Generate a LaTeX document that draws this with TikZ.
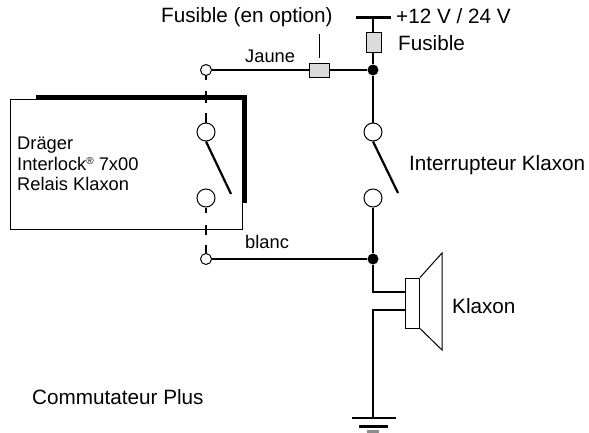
\documentclass[tikz,border=0pt]{standalone}
\usepackage{fontspec}
\setmainfont{Liberation Sans}
\tikzset{
  wire/.style={line width=2.2pt},
  thickwire/.style={line width=4.8pt},
  thinwire/.style={line width=1pt},
  term/.style={circle,draw,fill=white,line width=1pt,inner sep=0pt,minimum size=11pt},
  contact/.style={circle,draw,fill=white,line width=1pt,inner sep=0pt,minimum size=18pt},
  junction/.style={circle,fill=black,inner sep=0pt,minimum size=11pt},
  fusebox/.style={draw,fill=black!14,line width=1pt,inner sep=0pt},
  biglabel/.style={anchor=base west,inner sep=0pt,font=\fontsize{20.7}{24}\selectfont},
  smalllabel/.style={anchor=base west,inner sep=0pt,font=\fontsize{18.3}{21}\selectfont},
}
\begin{document}
\begin{tikzpicture}[x=1pt,y=-1pt]
\useasboundingbox (0,0) rectangle (589,432);

% relay box
\draw[thinwire] (242,203) -- (242,229) -- (10,229) -- (10,99) -- (36,99);
\draw[thickwire] (36,97.5) -- (244.5,97.5) -- (244.5,203);

% terminals and contacts
\node[term] (termJaune) at (206,70) {};
\node[term] (termBlanc) at (206,259) {};
\node[contact] (relayA) at (206,132) {};
\node[contact] (relayB) at (206,198) {};
\node[contact] (switchA) at (373,132) {};
\node[contact] (switchB) at (373,198) {};
\node[junction] (juncTop) at (373,70) {};
\node[junction] (juncBottom) at (373,259) {};

\coordinate (vcc) at (373,17.5);
\coordinate (vccL) at (356,17.5);
\coordinate (vccR) at (391,17.5);
\coordinate (relayEnd) at (231,194);
\coordinate (switchEnd) at (398,193);
\coordinate (hornTop) at (373,292);
\coordinate (hornTopR) at (405,292);
\coordinate (hornBot) at (373,310);
\coordinate (hornBotR) at (405,310);
\coordinate (gnd) at (373,418);
\coordinate (leaderA) at (319,34);
\coordinate (leaderB) at (319,58);

% wires
\draw[wire] (vccL) -- (vccR);
\draw[wire] (vcc) -- (juncTop);
\draw[wire] (termJaune) -- (juncTop);
\draw[wire] (juncTop) -- (switchA);
\draw[wire] (switchB) -- (juncBottom);
\draw[wire] (termBlanc) -- (juncBottom);
\draw[wire] (juncBottom) -- (hornTop) -- (hornTopR);
\draw[wire] (hornBotR) -- (hornBot) -- (gnd);
\draw[wire] (switchA.south) -- (switchEnd);
\draw[wire] (relayA.south) -- (relayEnd);
\draw[wire,dash pattern=on 10pt off 10pt on 12pt off 11pt on 5pt off 99pt] (relayA) -- (termJaune);
\draw[wire,dash pattern=on 8pt off 10pt on 10pt off 12pt on 6pt off 99pt] (termBlanc) -- (relayB);
\draw[thinwire] (leaderA) -- (leaderB);

% ground
\draw[wire] (352,418) -- (396,418);
\draw[wire] (359,426.5) -- (388,426.5);
\draw[wire,black!45] (367,431.5) -- (379,431.5);

% fuses
\node[fusebox,minimum width=15pt,minimum height=20pt] (fuseMain) at (373.5,42) {};
\node[fusebox,minimum width=20pt,minimum height=14pt] (fuseOpt) at (319.5,70) {};

% horn
\node[draw,fill=white,line width=1pt,inner sep=0pt,minimum width=14pt,minimum height=50pt] (horn) at (412.5,303) {};
\draw[thinwire] (horn.north east) -- (442,253) -- (442,350) -- (horn.south east);

% labels
\node[biglabel] (lblOption) at (161,22) {Fusible (en option)};
\node[biglabel] (lblVcc) at (396,23.5) {+12 V / 24 V};
\node[biglabel] (lblFuse) at (398,50) {Fusible};
\node[smalllabel] (lblJaune) at (245,62) {Jaune};
\node[smalllabel] (lblBlanc) at (245,248) {blanc};
\node[smalllabel] (lblDrager) at (17,149) {Dräger};
\node[smalllabel] (lblInter) at (17,170) {Interlock{\raisebox{5.5pt}{\fontsize{10}{10}\selectfont ®}} 7x00};
\node[smalllabel] (lblRelais) at (17,190.5) {Relais Klaxon};
\node[biglabel] (lblSwitch) at (409,170) {Interrupteur Klaxon};
\node[biglabel] (lblKlaxon) at (452,313) {Klaxon};
\node[biglabel] (lblPlus) at (32,404) {Commutateur Plus};
\end{tikzpicture}
\end{document}
